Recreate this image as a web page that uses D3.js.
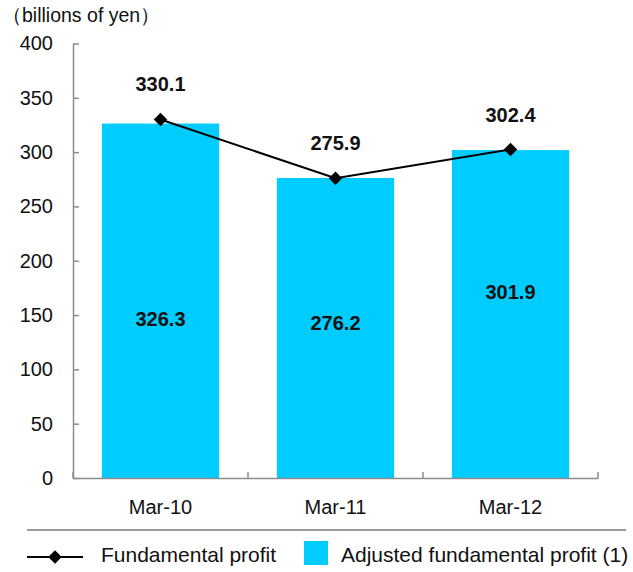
<!DOCTYPE html>
<html>
<head>
<meta charset="utf-8">
<script src="https://cdn.jsdelivr.net/npm/d3@7"></script>
<style>
  body { margin: 0; background: #fff; }
  text { font-family: "Liberation Sans", Arial, sans-serif; }
</style>
</head>
<body>
<div id="chart-area"></div>
<script>
// data
let categories = ["Mar-10", "Mar-11", "Mar-12"];
let adjustedProfit = [326.3, 276.2, 301.9];
let fundamentalProfit = [330.1, 275.9, 302.4];
let yTicks = [0, 50, 100, 150, 200, 250, 300, 350, 400];
// where the in-bar labels sit, in axis units
let barLabelAt = [146, 143, 171];

let width = 633, height = 572;
let barColor = "#00ccff";
let axisColor = "#8c8c8c";

let svg = d3.select("#chart-area")
    .append("svg")
    .attr("width", width)
    .attr("height", height);

let xScale = d3.scaleBand()
    .domain(categories)
    .range([73, 598])
    .paddingInner(0.33)
    .paddingOuter(0.165);

let yScale = d3.scaleLinear()
    .domain([0, 400])
    .range([478, 43.5]);

// title
svg.append("text")
    .attr("x", 2)
    .attr("y", 22)
    .attr("font-size", "19.5px")
    .attr("fill", "#111")
    .text("（billions of yen）");

// bars
svg.selectAll("rect.bar")
    .data(adjustedProfit)
    .enter()
    .append("rect")
    .attr("class", "bar")
    .attr("x", (d, i) => xScale(categories[i]))
    .attr("y", d => yScale(d))
    .attr("width", xScale.bandwidth())
    .attr("height", d => yScale(0) - yScale(d))
    .attr("fill", barColor);

// y axis
let yAxis = d3.axisLeft(yScale)
    .tickValues(yTicks)
    .tickSizeInner(-6)
    .tickSizeOuter(0)
    .tickPadding(20);

let gy = svg.append("g")
    .attr("transform", "translate(73,0)")
    .call(yAxis);
gy.select(".domain").attr("stroke", axisColor).attr("stroke-width", 1.5);
gy.selectAll(".tick line").attr("stroke", axisColor).attr("stroke-width", 1.5);
gy.selectAll(".tick text")
    .attr("font-size", "20px")
    .attr("font-family", "Liberation Sans, Arial, sans-serif")
    .attr("fill", "#111");

// x axis
let xAxis = d3.axisBottom(xScale)
    .tickSize(0)
    .tickPadding(22);

let gx = svg.append("g")
    .attr("transform", "translate(0," + yScale(0) + ")")
    .call(xAxis);
gx.select(".domain").attr("stroke", axisColor).attr("stroke-width", 1.5);
gx.selectAll(".tick text")
    .attr("font-size", "20px")
    .attr("font-family", "Liberation Sans, Arial, sans-serif")
    .attr("fill", "#111");

// tick marks at band boundaries
let step = xScale.step();
let bounds = d3.range(categories.length + 1).map(i => xScale.range()[0] + i * step);
gx.selectAll("line.bound")
    .data(bounds)
    .enter()
    .append("line")
    .attr("class", "bound")
    .attr("x1", d => d)
    .attr("x2", d => d)
    .attr("y1", 0)
    .attr("y2", -6)
    .attr("stroke", axisColor)
    .attr("stroke-width", 1.5);

// in-bar labels
svg.selectAll("text.barlabel")
    .data(adjustedProfit)
    .enter()
    .append("text")
    .attr("class", "barlabel")
    .attr("x", (d, i) => xScale(categories[i]) + xScale.bandwidth() / 2)
    .attr("y", (d, i) => yScale(barLabelAt[i]))
    .attr("dy", "0.35em")
    .attr("text-anchor", "middle")
    .attr("font-size", "20px")
    .attr("font-weight", "bold")
    .attr("fill", "#111")
    .text(d => d.toFixed(1));

// line series
let cx = (d, i) => xScale(categories[i]) + xScale.bandwidth() / 2;
let line = d3.line()
    .x((d, i) => cx(d, i))
    .y(d => yScale(d));

svg.append("path")
    .datum(fundamentalProfit)
    .attr("d", line)
    .attr("fill", "none")
    .attr("stroke", "#000")
    .attr("stroke-width", 2);

let diamond = d3.symbol().type(d3.symbolSquare).size(90);
svg.selectAll("path.marker")
    .data(fundamentalProfit)
    .enter()
    .append("path")
    .attr("class", "marker")
    .attr("d", diamond)
    .attr("transform", (d, i) => "translate(" + cx(d, i) + "," + yScale(d) + ") rotate(45)")
    .attr("fill", "#000");

svg.selectAll("text.linelabel")
    .data(fundamentalProfit)
    .enter()
    .append("text")
    .attr("class", "linelabel")
    .attr("x", (d, i) => cx(d, i))
    .attr("y", d => yScale(d) - 28)
    .attr("text-anchor", "middle")
    .attr("font-size", "20px")
    .attr("font-weight", "bold")
    .attr("fill", "#111")
    .text(d => d.toFixed(1));

// separator
svg.append("line")
    .attr("x1", 27)
    .attr("x2", 626)
    .attr("y1", 530)
    .attr("y2", 530)
    .attr("stroke", "#999")
    .attr("stroke-width", 2);

// legend
let legend = svg.append("g").attr("transform", "translate(0,557)");
legend.append("line")
    .attr("x1", 27)
    .attr("x2", 83)
    .attr("y1", 0)
    .attr("y2", 0)
    .attr("stroke", "#000")
    .attr("stroke-width", 2);
legend.append("path")
    .attr("d", diamond)
    .attr("transform", "translate(55,0) rotate(45)")
    .attr("fill", "#000");
legend.append("text")
    .attr("x", 101)
    .attr("y", 5)
    .attr("font-size", "21px")
    .attr("fill", "#111")
    .text("Fundamental profit");
legend.append("rect")
    .attr("x", 304)
    .attr("y", -16)
    .attr("width", 24)
    .attr("height", 24)
    .attr("fill", barColor);
legend.append("text")
    .attr("x", 341)
    .attr("y", 5)
    .attr("font-size", "21px")
    .attr("fill", "#111")
    .text("Adjusted fundamental profit (1)");
</script>
</body>
</html>
